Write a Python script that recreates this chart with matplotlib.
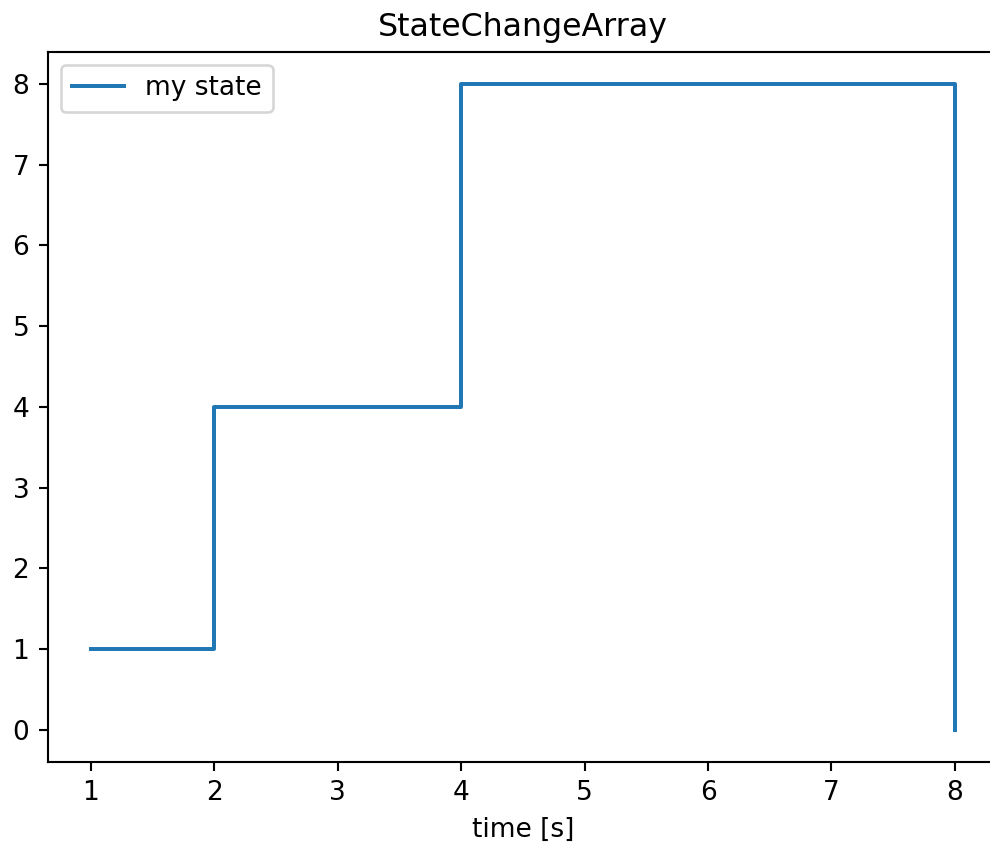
import matplotlib
matplotlib.use("Agg")
import matplotlib.pyplot as plt

times = [1, 2, 4, 8]
states = [1, 4, 8, 0]

DPI = 190
W, H = 990, 846
fig = plt.figure(figsize=(W / DPI, H / DPI), dpi=DPI)
left, right = 47.8 / W, 998.0 / W
bottom, top = 1 - 762.0 / H, 1 - 51.7 / H
ax = fig.add_axes([left, bottom, right - left, top - bottom])
ax.step(times, states, where="post", label="my state")
ax.set_title("StateChangeArray")
ax.set_xlabel("time [s]")
ax.legend(loc="upper left")
fig.savefig("out.png", dpi=DPI)
